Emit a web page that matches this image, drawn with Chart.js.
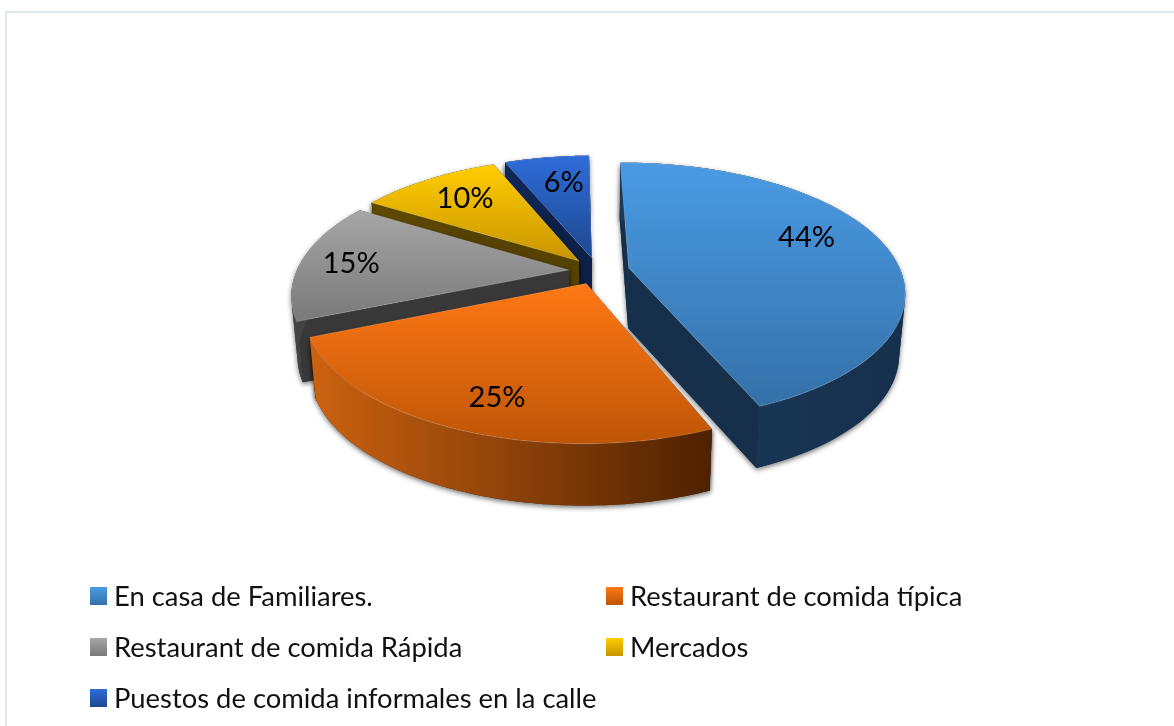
<!DOCTYPE html>
<html>
<head>
<meta charset="utf-8">
<title>Pie 3D</title>
<script src="https://cdn.jsdelivr.net/npm/chart.js@4"></script>
<style>
  html, body { margin: 0; padding: 0; background: #fff; overflow: hidden; }
  #wrap { position: relative; width: 1174px; height: 726px; overflow: hidden; }
  #frame { position: absolute; left: 5px; top: 11px; width: 1300px; height: 900px; border: 2px solid #e2e7ee; }
  #myPie { position: absolute; left: 0; top: 0; }
  .leg { position: absolute; font: 27.4px Lato, sans-serif; color: #111; white-space: nowrap; line-height: 30px; }
  .leg i { position: absolute; left: -24px; top: 6px; width: 17px; height: 18px; }
</style>
</head>
<body>
<div id="wrap">
  <div id="frame"></div>
  <canvas id="myPie" width="1174" height="726"></canvas>
</div>
<script>
var categories = ['En casa de Familiares.', 'Restaurant de comida típica', 'Restaurant de comida Rápida', 'Mercados', 'Puestos de comida informales en la calle'];
var values = [44, 25, 15, 10, 6];
var explode = [32, 29, 29, 29, 29]; // pixels each slice is pulled out

var topLight = ['#4a9be4', '#ff7815', '#a6a6a6', '#ffcd00', '#2e6cd8'];
var topDark = ['#3470a8', '#bd5507', '#797979', '#c89400', '#1e4890'];
var wallLeft = ['#1a3a5c', '#cc6210', '#454545', '#5f4a00', '#10285a'];
var wallRight = ['#16304c', '#4e2102', '#383838', '#554100', '#0d2048'];

// label placement inside each slice
var labelRadius = [0.74, 0.80, 0.81, 0.74, 0.71];
var labelShift = [-8.8, -2.7, -1.1, 0.5, 1.9];

// back to front
var paintOrder = [4, 3, 2, 0, 1];

// perspective of the tilted pie
var R = 272, B = 125.6, P = 0.183, DEPTH = 60, SHRINK = 0.02;

function project(el, x, y, z) {
  var f = 1 / (1 - P * y);
  var s = 1 - SHRINK * z;
  return { x: el.x + s * R * x * f, y: el.y + s * B * y * f + z * DEPTH * (1 + 0.08 * y) };
}

function offsetOf(el) {
  var mid = (el.startAngle + el.endAngle) / 2;
  var e = el.options.offset / R;
  return { x: Math.cos(mid) * e, y: Math.sin(mid) * e };
}

function rimPoint(el, a, t) {
  var o = offsetOf(el);
  return { x: o.x + Math.cos(a) * t, y: o.y + Math.sin(a) * t };
}

function tracePoly(ctx, pts) {
  pts.forEach(function (p, i) {
    if (i === 0) ctx.moveTo(p.x, p.y); else ctx.lineTo(p.x, p.y);
  });
  ctx.closePath();
}

function fillPoly(ctx, pts) {
  ctx.beginPath();
  tracePoly(ctx, pts);
  ctx.fill();
}

function arcAngles(el) {
  var list = [];
  var n = 80;
  for (var i = 0; i <= n; i++) list.push(el.startAngle + (el.endAngle - el.startAngle) * i / n);
  return list;
}

function sideFace(el, a) {
  var c = rimPoint(el, a, 0), p = rimPoint(el, a, 1);
  return [project(el, c.x, c.y, 0), project(el, p.x, p.y, 0), project(el, p.x, p.y, 1), project(el, c.x, c.y, 1)];
}

// outer wall as small quads so the silhouette follows the tangent of the rim
function rimQuads(el) {
  var angles = arcAngles(el);
  var quads = [];
  for (var i = 0; i < angles.length - 1; i++) {
    var a = rimPoint(el, angles[i], 1), b = rimPoint(el, angles[i + 1], 1);
    var q = [project(el, a.x, a.y, 0), project(el, b.x, b.y, 0), project(el, b.x, b.y, 1), project(el, a.x, a.y, 1)];
    var area = 0;
    q.forEach(function (p, k) {
      var n = q[(k + 1) % 4];
      area += p.x * n.y - n.x * p.y;
    });
    quads.push(area < 0 ? q.reverse() : q);
  }
  return quads;
}

function fillQuads(ctx, quads) {
  ctx.beginPath();
  quads.forEach(function (q) { tracePoly(ctx, q); });
  ctx.fill();
}

function topFace(el) {
  var c = rimPoint(el, 0, 0);
  var pts = [project(el, c.x, c.y, 0)];
  arcAngles(el).forEach(function (a) {
    var p = rimPoint(el, a, 1);
    pts.push(project(el, p.x, p.y, 0));
  });
  return pts;
}

function range(vals) {
  return [Math.min.apply(null, vals), Math.max.apply(null, vals)];
}

var pie3d = {
  id: 'pie3d',
  beforeDatasetDraw: function () { return false; }, // slices are painted below instead
  afterDatasetsDraw: function (chart) {
    var ctx = chart.ctx;
    var arcs = chart.getDatasetMeta(0).data;
    paintOrder.forEach(function (i) {
      var el = arcs[i];
      var sides = [sideFace(el, el.startAngle), sideFace(el, el.endAngle)];
      var quads = rimQuads(el);

      ctx.save();
      ctx.shadowColor = 'rgba(0,0,0,0.55)';
      ctx.shadowBlur = 5;
      ctx.shadowOffsetY = 2;
      ctx.fillStyle = wallRight[i];
      fillPoly(ctx, sides[0]);
      fillPoly(ctx, sides[1]);
      fillQuads(ctx, quads);
      ctx.restore();

      var xs = [];
      quads.forEach(function (q) { q.forEach(function (p) { xs.push(p.x); }); });
      var rx = range(xs);
      var wall = ctx.createLinearGradient(rx[0], 0, rx[1], 0);
      wall.addColorStop(0, wallLeft[i]);
      wall.addColorStop(1, wallRight[i]);
      ctx.fillStyle = wallRight[i];
      fillPoly(ctx, sides[0]);
      fillPoly(ctx, sides[1]);
      ctx.fillStyle = wall;
      fillQuads(ctx, quads);

      var top = topFace(el);
      var ry = range(top.map(function (p) { return p.y; }));
      var grad = ctx.createLinearGradient(0, ry[0], 0, ry[1]);
      grad.addColorStop(0, topLight[i]);
      grad.addColorStop(1, topDark[i]);
      ctx.fillStyle = grad;
      fillPoly(ctx, top);
      ctx.strokeStyle = 'rgba(255,255,255,0.18)';
      ctx.lineWidth = 1;
      ctx.stroke();
    });

    ctx.save();
    ctx.fillStyle = '#000';
    ctx.font = '29px Lato, sans-serif';
    ctx.textAlign = 'center';
    ctx.textBaseline = 'middle';
    arcs.forEach(function (el, i) {
      var mid = (el.startAngle + el.endAngle) / 2 + labelShift[i] * Math.PI / 180;
      var p = rimPoint(el, mid, labelRadius[i]);
      var s = project(el, p.x, p.y, 0);
      ctx.fillText(values[i] + '%', s.x, s.y);
    });
    ctx.restore();
  }
};

var ctx1 = document.getElementById('myPie').getContext('2d');
var myPie = new Chart(ctx1, {
  type: 'pie',
  data: {
    labels: categories,
    datasets: [{
      data: values,
      offset: explode,
      backgroundColor: topLight,
      borderWidth: 0
    }]
  },
  options: {
    responsive: false,
    animation: false,
    rotation: -0.9,
    layout: { padding: { left: 21, bottom: 184 } }, // centre of the pie
    plugins: {
      legend: { display: false },
      tooltip: { enabled: false }
    }
  },
  plugins: [pie3d]
});

// legend in two columns, same swatch gradients as the slices
var wrap = document.getElementById('wrap');
categories.forEach(function (name, i) {
  var d = document.createElement('div');
  d.className = 'leg';
  d.style.left = (i % 2 === 0 ? 114 : 630) + 'px';
  d.style.top = (581 + 51 * Math.floor(i / 2)) + 'px';
  d.textContent = name;
  var sw = document.createElement('i');
  sw.style.background = 'linear-gradient(' + topLight[i] + ',' + topDark[i] + ')';
  d.appendChild(sw);
  wrap.appendChild(d);
});
</script>
</body>
</html>
